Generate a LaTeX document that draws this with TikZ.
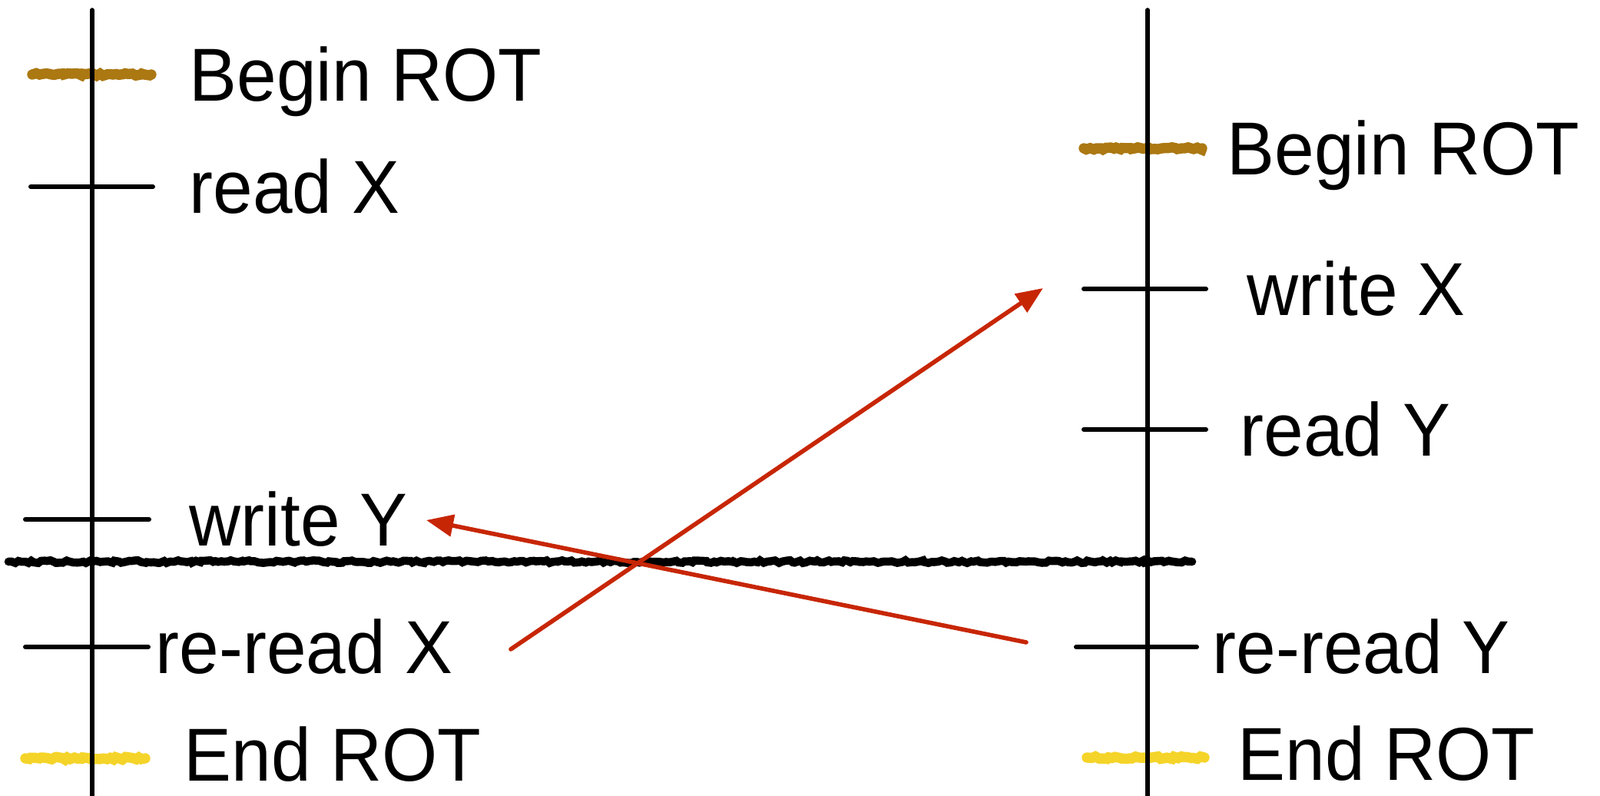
\documentclass[tikz,border=0pt]{standalone}
\usepackage{fontspec}
\setmainfont[FakeStretch=0.95]{Liberation Sans}
\usetikzlibrary{arrows.meta,calc,decorations.pathmorphing}
\usepackage{tkz-euclide}
\definecolor{ArrowClr}{rgb}{0.78,0.15,0.02}
\definecolor{BeginClr}{rgb}{0.67,0.47,0.07}
\definecolor{EndClr}{rgb}{0.96,0.83,0.16}

\begin{document}
\begin{tikzpicture}[
  lbl/.style={anchor=base west,inner sep=0pt,font=\fontsize{27.8}{33}\selectfont},
  pencil/.style={line width=3.8pt,decorate,decoration={random steps,segment length=1.2pt,amplitude=0.5pt}}]
\useasboundingbox (0,0) rectangle (20.83,10.36);
\tkzSetUpLine[line width=1.6pt,color=black]

\tkzDefPoints{1.20/10.23/Lt,1.20/0/Lb,14.94/10.23/Rt,14.94/0/Rb}
% begin and end marks
\tkzDefPoints{0.42/9.39/bl1,1.97/9.39/bl2,14.11/8.43/br1,15.65/8.43/br2}
\tkzDefPoints{0.33/0.49/el1,1.89/0.49/el2,14.15/0.50/er1,15.68/0.50/er2}
% steps
\tkzDefPoints{0.40/7.93/rx1,1.99/7.93/rx2,0.33/3.60/wy1,1.94/3.60/wy2,0.33/1.94/xx1,1.93/1.94/xx2}
\tkzDefPoints{14.11/6.60/wx1,15.70/6.60/wx2,14.11/4.77/ry1,15.70/4.77/ry2,14.01/1.94/yy1,15.58/1.94/yy2}
\tkzDefPoints{0.11/3.05/c1,15.52/3.05/c2}
\tkzDefPoints{6.65/1.91/s1,13.58/6.61/e1,13.36/2.00/s2,5.55/3.59/e2}

\tkzDrawSegments[pencil,color=BeginClr](bl1,bl2 br1,br2)
\tkzDrawSegments[pencil,color=EndClr](el1,el2 er1,er2)
\tkzDrawSegments(Lt,Lb Rt,Rb)
\tkzDrawSegments[line width=1.7pt](rx1,rx2 wy1,wy2 xx1,xx2 wx1,wx2 ry1,ry2 yy1,yy2)
\tkzDrawSegment[pencil,line width=3pt](c1,c2)

\tkzDrawSegments[color=ArrowClr,line width=1.6pt,-{Triangle[length=10pt,width=8pt]}](s1,e1 s2,e2)

\node[lbl] (tBeginL) at (2.46,9.04) {Begin ROT};
\node[lbl] (tReadX) at (2.46,7.58) {read X};
\node[lbl] (tWriteY) at (2.46,3.25) {write Y};
\node[lbl] (tRereadX) at (2.02,1.59) {re-read X};
\node[lbl] (tEndL) at (2.39,0.19) {End ROT};

\node[lbl] (tBeginR) at (15.97,8.08) {Begin ROT};
\node[lbl] (tWriteX) at (16.23,6.25) {write X};
\node[lbl] (tReadY) at (16.14,4.42) {read Y};
\node[lbl] (tRereadY) at (15.78,1.59) {re-read Y};
\node[lbl] (tEndR) at (16.11,0.20) {End ROT};

\end{tikzpicture}
\end{document}
